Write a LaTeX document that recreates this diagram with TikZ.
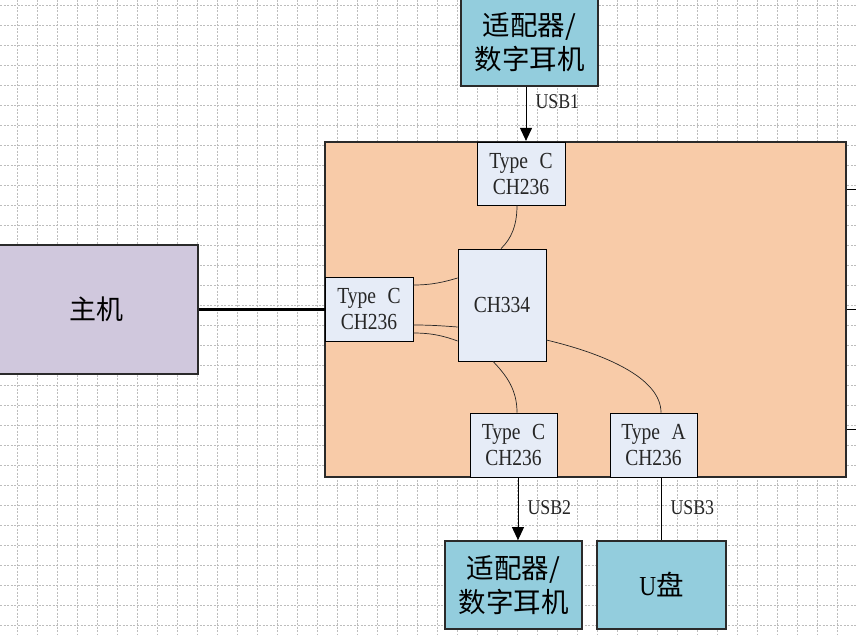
\documentclass[tikz,border=0pt]{standalone}
\usepackage{fontspec}
\setmainfont{Liberation Serif}[FakeStretch=0.85]
\newfontfamily\cjk{Noto Sans CJK SC}
\usetikzlibrary{arrows.meta}
\definecolor{peach}{HTML}{F8CBA8}
\definecolor{chipblue}{HTML}{E6ECF7}
\definecolor{teal}{HTML}{93CDDD}
\definecolor{lavender}{HTML}{D0C8DD}
\definecolor{gridgray}{HTML}{BDBDBD}
\definecolor{edge}{HTML}{2A2A2A}
\tikzset{
  gridline/.style={draw=gridgray, line width=0.6pt, dash pattern=on 2pt off 1.5pt},
  chip/.style={draw=black, line width=0.8pt, fill=chipblue, align=center, inner sep=0pt,
     text=black!85, font=\fontsize{23}{26}\selectfont},
  device/.style={draw=edge, line width=1.8pt, fill=teal, align=center, inner sep=0pt,
     text=black, font=\fontsize{27.5}{34}\selectfont},
  wire/.style={draw=black!85, line width=0.7pt},
  usbline/.style={draw=black, line width=1pt},
  usblabel/.style={anchor=west, inner sep=0pt, font=\fontsize{21}{24}\selectfont, text=black!85},
  tip/.style={-{Triangle[width=12pt,length=13pt]}}
}
\begin{document}
\begin{tikzpicture}[x=1pt,y=-1pt]
\path[use as bounding box, clip] (0,0) rectangle (856,634);
\fill[white] (0,0) rectangle (856,634);
% grid
\foreach \x in {17.3,37.3,...,857} \draw[gridline] (\x,0) -- (\x,634);
\foreach \y in {5.3,25.3,...,635} \draw[gridline] (0,\y) -- (856,\y);

% main board
\node[draw=edge, line width=2.2pt, fill=peach, minimum width=521pt, minimum height=335pt, inner sep=0pt]
  (main) at (585.5,309.5) {};
% right side stubs
\coordinate (r1) at (857,189.3);
\coordinate (r2) at (857,309.3);
\coordinate (r3) at (857,429.3);
\draw[line width=0.9pt] (main.east |- r1) -- (r1);
\draw[line width=0.9pt] (main.east |- r2) -- (r2);
\draw[line width=0.9pt] (main.east |- r3) -- (r3);

% host
\node[draw=edge, line width=1.8pt, fill=lavender, minimum width=210pt, minimum height=129pt, inner sep=0pt,
  font=\cjk\fontsize{27}{30}\selectfont] (host) at (93,309.5) {\hspace*{7pt}主机};

% chips
\node[chip, minimum width=88pt, minimum height=63pt] (topC) at (521,173.5) {Type\enspace C\\CH236};
\node[chip, minimum width=88pt, minimum height=112pt] (hub) at (502,305) {CH334};
\node[chip, minimum width=88pt, minimum height=64pt] (leftC) at (369,309) {Type\enspace C\\CH236};
\node[chip, minimum width=87pt, minimum height=64pt] (botC) at (513.5,445) {Type\enspace C\\CH236};
\node[chip, minimum width=87pt, minimum height=64pt] (botA) at (653.5,445) {Type\enspace A\\CH236};

% external devices
\node[device, minimum width=137pt, minimum height=88pt] (topad) at (529.5,42) {{\cjk 适配器/}\\{\cjk 数字耳机}};
\node[device, minimum width=137pt, minimum height=88pt] (botad) at (513.5,585) {{\cjk 适配器/}\\{\cjk 数字耳机}};
\node[device, minimum width=129pt, minimum height=88pt] (udisk) at (661.5,585) {U{\cjk 盘}};

% host link
\draw[line width=3pt] (host.east |- leftC.west) -- (leftC.west);

% internal wires
\draw[wire] (topC.south -| 517,0) .. controls (517,226) and (511,239) .. (hub.north -| 501,0);
\draw[wire] (leftC.east |- 0,285) .. controls (432,285) and (444,282) .. (hub.west |- 0,278);
\draw[wire] (leftC.east |- 0,325) .. controls (432,325) and (444,326) .. (hub.west |- 0,327);
\draw[wire] (leftC.east |- 0,333) .. controls (432,333) and (444,336) .. (hub.west |- 0,341);
\draw[wire] (hub.south -| 493,0) .. controls (507,376) and (517,390) .. (botC.north -| 517,0);
\draw[wire] (hub.east |- 0,340) .. controls (605,354) and (661,378) .. (botA.north -| 661,0);

% USB links
\coordinate (u1) at (526,0);
\coordinate (u2) at (518,0);
\coordinate (u3) at (661,0);
\draw[usbline, tip] (topad.south -| u1) -- (main.north -| u1)
  node[usblabel, pos=0.27, xshift=9pt] (l1) {USB1};
\draw[usbline, tip] (botC.south -| u2) -- (botad.north -| u2)
  node[usblabel, pos=0.48, xshift=9pt] (l2) {USB2};
\draw[usbline] (botA.south -| u3) -- (udisk.north -| u3)
  node[usblabel, pos=0.48, xshift=9pt] (l3) {USB3};
\end{tikzpicture}
\end{document}
